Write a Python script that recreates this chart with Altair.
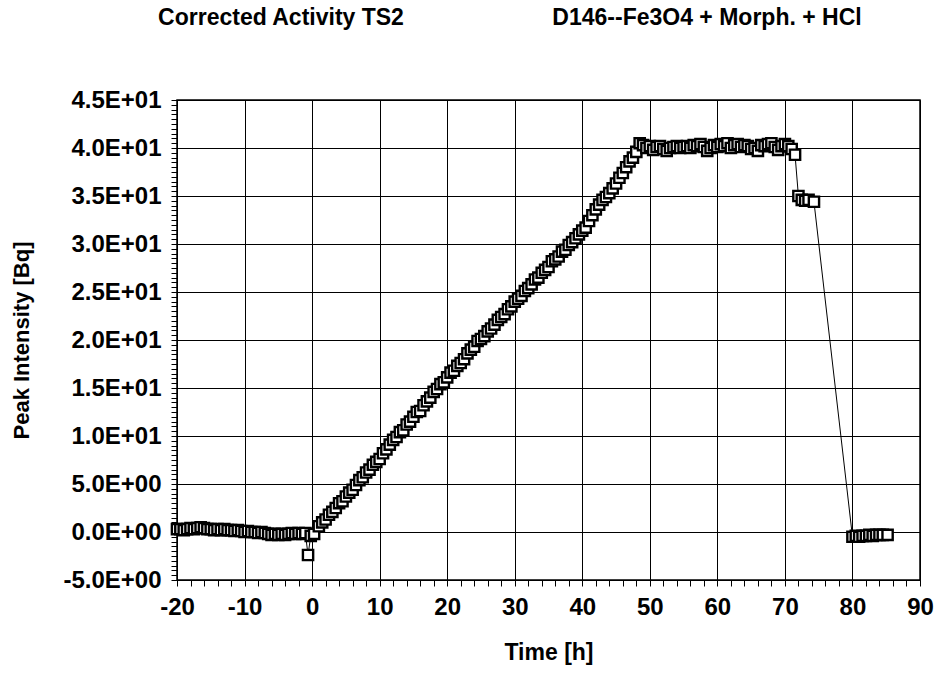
import altair as alt
import pandas as pd

# ---- data ----
baseline_t = [-20.0, -19.5, -19.0, -18.5, -18.0, -17.5, -17.0, -16.5, -16.0, -15.5,
              -15.0, -14.5, -14.0, -13.5, -13.0, -12.5, -12.0, -11.5, -11.0, -10.5,
              -10.0, -9.5, -9.0, -8.5, -8.0, -7.5, -7.0, -6.5, -6.0, -5.5,
              -5.0, -4.5, -4.0, -3.5, -3.0, -2.5, -2.0, -1.5, -1.0, -0.6, -0.2, 0.3]
baseline_v = [0.3, 0.3, 0.2, 0.3, 0.4, 0.3, 0.4, 0.5, 0.4, 0.3,
              0.3, 0.2, 0.3, 0.2, 0.3, 0.2, 0.2, 0.1, 0.2, 0.1,
              0.0, 0.1, 0.0, 0.0, -0.1, 0.0, -0.1, -0.2, -0.3, -0.2,
              -0.3, -0.2, -0.3, -0.2, -0.1, -0.2, -0.1, -0.2, -0.1, -2.4, -0.4, -0.2]

ramp_t = [1.0, 1.5, 2.0, 2.5, 3.0, 3.5, 4.0, 4.5, 5.0, 5.5,
          6.0, 6.5, 7.0, 7.5, 8.0, 8.5, 9.0, 9.5, 10.0, 10.5,
          11.0, 11.5, 12.0, 12.5, 13.0, 13.5, 14.0, 14.5, 15.0, 15.5,
          16.0, 16.5, 17.0, 17.5, 18.0, 18.5, 19.0, 19.5, 20.0, 20.5,
          21.0, 21.5, 22.0, 22.5, 23.0, 23.5, 24.0, 24.5, 25.0, 25.5,
          26.0, 26.5, 27.0, 27.5, 28.0, 28.5, 29.0, 29.5, 30.0, 30.5,
          31.0, 31.5, 32.0, 32.5, 33.0, 33.5, 34.0, 34.5, 35.0, 35.5,
          36.0, 36.5, 37.0, 37.5, 38.0, 38.5, 39.0, 39.5, 40.0, 40.5,
          41.0, 41.5, 42.0, 42.5, 43.0, 43.5, 44.0, 44.5, 45.0, 45.5,
          46.0, 46.5, 47.0, 47.5, 48.0, 48.5]
ramp_v = [0.6, 1.0, 1.3, 1.8, 2.1, 2.5, 3.0, 3.2, 3.7, 4.1,
          4.4, 4.9, 5.4, 5.7, 6.2, 6.5, 7.0, 7.3, 7.6, 8.2,
          8.6, 9.1, 9.6, 9.9, 10.4, 10.6, 11.2, 11.5, 12.0, 12.5,
          12.6, 13.2, 13.6, 14.0, 14.6, 14.9, 15.4, 15.6, 16.1, 16.6,
          16.8, 17.3, 17.6, 18.0, 18.6, 19.0, 19.3, 19.9, 20.1, 20.4,
          20.9, 21.2, 21.6, 22.1, 22.4, 22.7, 23.2, 23.5, 24.0, 24.3,
          24.6, 25.1, 25.4, 25.8, 26.3, 26.5, 27.0, 27.3, 27.6, 28.2,
          28.4, 28.7, 29.2, 29.4, 29.9, 30.2, 30.6, 31.0, 31.4, 31.7,
          32.4, 33.0, 33.6, 34.1, 34.6, 34.9, 35.3, 35.8, 36.3, 36.9,
          37.4, 38.0, 38.6, 39.0, 39.6, 40.5]

plateau_t = [49.0, 49.5, 50.0, 50.5, 51.0, 51.5, 52.0, 52.5, 53.0, 53.5,
             54.0, 54.5, 55.0, 55.5, 56.0, 56.5, 57.0, 57.5, 58.0, 58.5,
             59.0, 59.5, 60.0, 60.5, 61.0, 61.5, 62.0, 62.5, 63.0, 63.5,
             64.0, 64.5, 65.0, 65.5, 66.0, 66.5, 67.0, 67.5, 68.0, 68.5,
             69.0, 69.5, 70.0, 70.5, 71.0, 71.5]
plateau_v = [40.3, 40.0, 40.2, 39.8, 40.1, 40.2, 39.9, 39.7, 40.0, 40.1,
             40.2, 40.0, 40.1, 40.2, 40.0, 40.3, 40.2, 40.4, 40.1, 39.7,
             40.0, 40.3, 40.1, 40.4, 40.2, 40.5, 40.0, 40.3, 40.4, 40.1,
             40.3, 40.2, 39.9, 40.0, 39.7, 40.3, 40.2, 40.4, 40.5, 40.1,
             39.8, 40.2, 40.4, 40.2, 39.9, 39.3]

step_t = [72.0, 72.5, 73.0, 73.5, 74.3]
step_v = [35.0, 34.6, 34.5, 34.6, 34.4]

tail_t = [80.0, 80.5, 81.0, 81.5, 82.0, 82.5, 83.0, 83.5, 84.0, 84.5, 85.2]
tail_v = [-0.5, -0.4, -0.5, -0.4, -0.4, -0.3, -0.4, -0.3, -0.3, -0.3, -0.3]

title_left = "Corrected Activity TS2"
title_right = "D146--Fe3O4 + Morph. + HCl"
x_title = "Time [h]"
y_title = "Peak Intensity [Bq]"

times = baseline_t + ramp_t + plateau_t + step_t + tail_t
values = baseline_v + ramp_v + plateau_v + step_v + tail_v
df = pd.DataFrame({"time": times, "intensity": values, "seq": list(range(len(times)))})

FONT = "Liberation Sans"
x_ticks = [v for v in range(-20, 91, 2)]
y_ticks = [v / 2 for v in range(-10, 91)]

x_axis = alt.Axis(
    values=x_ticks,
    labelExpr="datum.value % 10 == 0 ? '' + datum.value : ''",
    labelOverlap=False, labelFlush=False,
    labelFont=FONT, labelFontSize=24, labelFontWeight="bold", labelColor="black",
    labelPadding=9,
    title=x_title, titleFont=FONT, titleFontSize=23, titleFontWeight="bold",
    titleColor="black", titlePadding=22,
    tickColor="black", tickSize=6, tickWidth=1,
    domainColor="black", domainWidth=1,
    grid=True, gridColor="black", gridWidth=1,
    gridOpacity={"condition": {"test": "datum.value % 10 == 0", "value": 1}, "value": 0},
)
y_axis = alt.Axis(
    values=y_ticks,
    labelExpr=("datum.value % 5 != 0 ? '' : (datum.value == 0 ? '0.0E+00' : "
               "((datum.value < 0 ? '-' : '') + (abs(datum.value) >= 10 ? "
               "format(abs(datum.value) / 10, '.1f') + 'E+01' : "
               "format(abs(datum.value), '.1f') + 'E+00')))"),
    labelOverlap=False, labelFlush=False,
    labelFont=FONT, labelFontSize=24, labelFontWeight="bold", labelColor="black",
    labelPadding=10,
    title=y_title, titleFont=FONT, titleFontSize=22, titleFontWeight="bold",
    titleColor="black", titlePadding=29,
    tickColor="black", tickSize=6, tickWidth=1,
    domainColor="black", domainWidth=1,
    grid=True, gridColor="black", gridWidth=1,
    gridOpacity={"condition": {"test": "datum.value % 5 == 0", "value": 1}, "value": 0},
)

xenc = alt.X("time:Q", scale=alt.Scale(domain=[-20, 90], nice=False, zero=False), axis=x_axis)
yenc = alt.Y("intensity:Q", scale=alt.Scale(domain=[-5, 45], nice=False, zero=False), axis=y_axis)

base = alt.Chart(df)
line = base.mark_line(color="black", strokeWidth=1).encode(x=xenc, y=yenc, order="seq:Q")
points = base.mark_point(
    shape="square", size=105, filled=False, fill="white", fillOpacity=1,
    stroke="black", strokeWidth=2.4, opacity=1,
).encode(x=xenc, y=yenc)

tdf = pd.DataFrame({"t": [0]})
t1 = alt.Chart(tdf).mark_text(
    font=FONT, fontSize=23, fontWeight="bold", color="black", align="center", baseline="middle"
).encode(x=alt.value(104), y=alt.value(-82), text=alt.value(title_left))
t2 = alt.Chart(tdf).mark_text(
    font=FONT, fontSize=23, fontWeight="bold", color="black", align="center", baseline="middle"
).encode(x=alt.value(530), y=alt.value(-82), text=alt.value(title_right))

chart = alt.layer(line, points, t1, t2).properties(
    width=743, height=480,
    autosize=alt.AutoSizeParams(type="none"),
    padding={"left": 177, "top": 100, "right": 17, "bottom": 95},
    background="white",
).configure_view(stroke="black", strokeWidth=1.5)

chart.save("out.html", embed_options={"renderer": "svg", "actions": False})
